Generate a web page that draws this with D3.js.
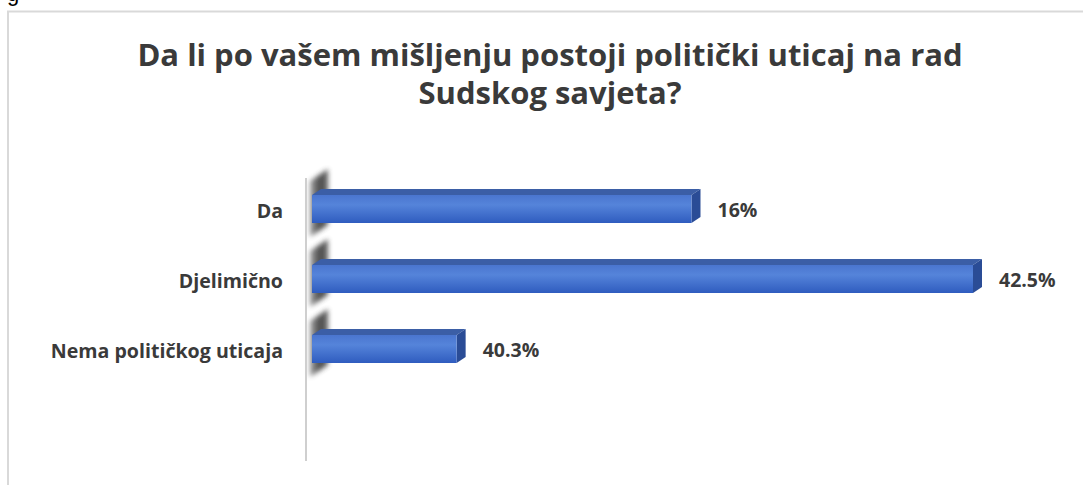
<!DOCTYPE html>
<html><head><meta charset="utf-8">
<script src="https://cdn.jsdelivr.net/npm/d3@7"></script>
<style>html,body{margin:0;padding:0;background:#fff;overflow:hidden}</style>
</head><body>
<svg id="c" width="1083" height="485"></svg>
<script>
// Data
const titleLines = ["Da li po vašem mišljenju postoji politički uticaj na rad", "Sudskog savjeta?"];
const categories = ["Da", "Djelimično", "Nema političkog uticaja"];
// bar lengths as drawn in the reference (they do not follow the printed labels)
const barValues = [24.4, 42.5, 9.3];
const valueLabels = ["16%", "42.5%", "40.3%"];

const svg = d3.select("#c");
const FONT = "'Open Sans', sans-serif";
const TXT = "#3a3a3a";

// frame
svg.append("path").attr("d", "M8,490 V11.5 H1090").attr("fill", "none")
  .attr("stroke", "#d9d9d9").attr("stroke-width", 2);
svg.append("text").attr("x", 7).attr("y", 1).attr("font-family", "Arial")
  .attr("font-size", 22).attr("fill", "#000").text("g");

// title
svg.selectAll("text.title").data(titleLines).join("text").attr("class", "title")
  .attr("x", 550).attr("y", (d, i) => 66 + i * 38)
  .attr("text-anchor", "middle").attr("font-family", FONT).attr("font-weight", 700)
  .attr("font-size", 31).attr("fill", TXT).text(d => d);

const x = d3.scaleLinear().domain([0, 42.5]).range([312, 973]);
const y = d3.scaleBand().domain(categories).range([174, 384]).paddingInner(0.6).paddingOuter(0.3);
const bh = y.bandwidth();
const dx = 9, dy = -6;

const defs = svg.append("defs");
const fg = defs.append("linearGradient").attr("id", "front").attr("x1", 0).attr("x2", 0).attr("y1", 0).attr("y2", 1);
fg.append("stop").attr("offset", "0").attr("stop-color", "#4a75cf");
fg.append("stop").attr("offset", "0.35").attr("stop-color", "#5584da");
fg.append("stop").attr("offset", "1").attr("stop-color", "#2f5cbf");
const sg = defs.append("linearGradient").attr("id", "shadow").attr("x1", 0).attr("x2", 1).attr("y1", 0).attr("y2", 0);
sg.append("stop").attr("offset", "0").attr("stop-color", "#9a9a9a");
sg.append("stop").attr("offset", "0.5").attr("stop-color", "#3a3a3a");
sg.append("stop").attr("offset", "1").attr("stop-color", "#555");
defs.append("filter").attr("id", "blur").attr("x", "-50%").attr("y", "-50%").attr("width", "200%").attr("height", "200%")
  .append("feGaussianBlur").attr("stdDeviation", 2.8);

// wall shadows
svg.append("g").selectAll("path").data(categories).join("path")
  .attr("d", c => {
    const t = y(c) - 14, b = y(c) + bh + 14;
    return `M310,${t} L328,${t - 12} L328,${b - 12} L310,${b} Z`;
  })
  .attr("fill", "url(#shadow)").attr("filter", "url(#blur)").attr("opacity", 0.9);

// axis line
svg.append("line").attr("x1", 306).attr("x2", 306).attr("y1", 178).attr("y2", 461)
  .attr("stroke", "#cfcfcf").attr("stroke-width", 2);

const bars = svg.append("g").selectAll("g").data(categories).join("g");
bars.append("path").attr("d", (c, i) => {
  const x0 = x(0), x1 = x(barValues[i]), t = y(c);
  return `M${x0},${t} L${x0 + dx},${t + dy} L${x1 + dx},${t + dy} L${x1},${t} Z`;
}).attr("fill", "#3b5ea6");
bars.append("path").attr("d", (c, i) => {
  const x1 = x(barValues[i]), t = y(c);
  return `M${x1},${t} L${x1 + dx},${t + dy} L${x1 + dx},${t + bh + dy} L${x1},${t + bh} Z`;
}).attr("fill", "#2a4c96");
bars.append("rect").attr("x", x(0)).attr("y", c => y(c))
  .attr("width", (c, i) => x(barValues[i]) - x(0)).attr("height", bh)
  .attr("fill", "url(#front)");

// value labels
svg.append("g").selectAll("text").data(categories).join("text")
  .attr("x", (c, i) => x(barValues[i]) + dx + 17)
  .attr("y", c => y(c) + bh / 2 + 3).attr("dominant-baseline", "middle")
  .attr("font-family", FONT).attr("font-weight", 700).attr("font-size", 19.5).attr("fill", TXT)
  .text((c, i) => valueLabels[i]);

// category labels
svg.append("g").selectAll("text").data(categories).join("text")
  .attr("x", 283).attr("y", c => y(c) + bh / 2 + 4).attr("dominant-baseline", "middle")
  .attr("text-anchor", "end")
  .attr("font-family", FONT).attr("font-weight", 700).attr("font-size", 19.6).attr("fill", TXT)
  .text(c => c);
</script>
</body></html>
